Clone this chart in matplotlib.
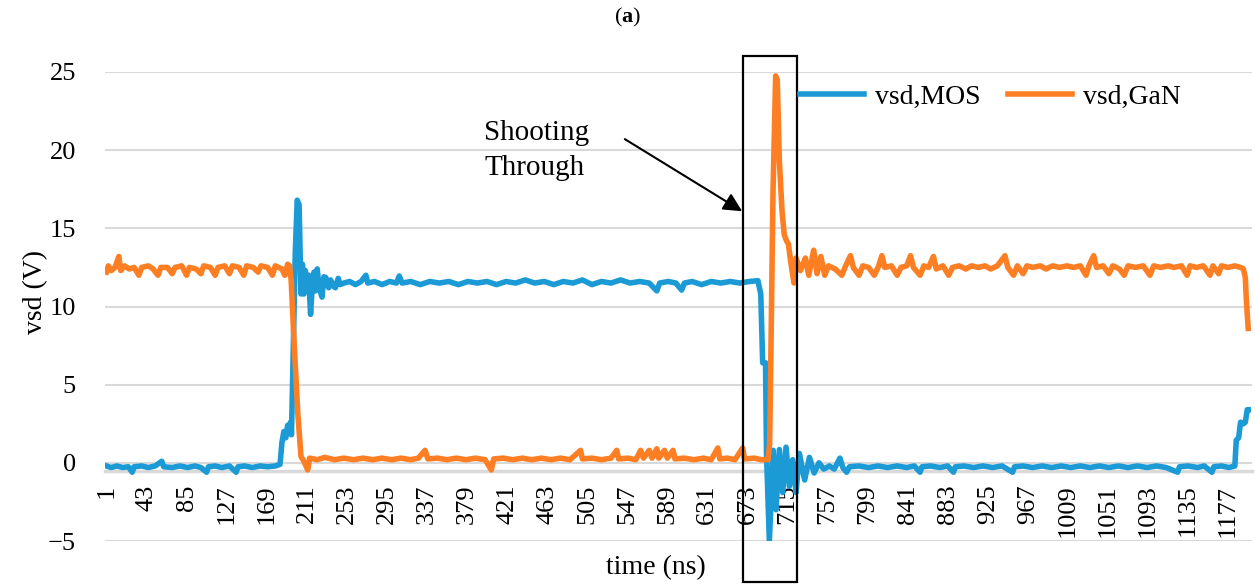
import matplotlib
matplotlib.use("Agg")
import matplotlib.pyplot as plt
from matplotlib.patches import Rectangle

plt.rcParams['font.family'] = ['Liberation Serif', 'DejaVu Serif']
plt.rcParams['mathtext.fontset'] = 'custom'
plt.rcParams['mathtext.rm'] = 'Liberation Serif'
plt.rcParams['mathtext.bf'] = 'Liberation Serif:bold'

# vsd,MOS  (time in ns, voltage in V)
mos_t = [1, 6, 12, 18, 24, 28, 30, 38, 45, 52, 59, 61, 70, 78, 86, 94, 100, 106, 108, 115,
         122, 130, 137, 139, 146, 154, 162, 170, 178, 183,
         185, 187, 189, 191, 193, 194, 195, 197, 199, 201, 203, 205, 206.5, 208, 209.5, 211.5,
         213, 215, 217, 218.6, 220, 222, 224, 227, 229, 231, 234, 236, 239, 241, 244, 246, 250,
         256, 262, 268, 273, 275, 282, 290, 298, 305, 308, 311, 320, 330, 340, 350, 360, 370,
         380, 390, 400, 410, 420, 430, 440, 450, 460, 470, 480, 490, 500, 510, 520, 530, 540,
         550, 560, 570, 578, 581, 590, 598, 604, 607, 615, 625, 635, 645, 655, 665, 675, 684,
         687, 689, 692, 693, 696, 700, 703, 706.5, 710, 713.5, 717, 720.5, 724, 727.5, 733,
         738, 743, 748, 753, 759, 764, 770, 773, 777, 780, 790, 800, 810, 820, 830, 840, 848,
         854, 856, 865, 875, 883, 889, 891, 900, 910, 920, 930, 940, 951, 953, 962, 972, 982,
         992, 1002, 1012, 1022, 1032, 1042, 1052, 1062, 1072, 1082, 1092, 1102, 1112, 1124,
         1126, 1135, 1145, 1152, 1160, 1162, 1170, 1178, 1184, 1185.5, 1188, 1190, 1193, 1195,
         1197, 1198]
mos_v = [-0.2, -0.3, -0.2, -0.3, -0.25, -0.6, -0.25, -0.2, -0.3, -0.2, 0.1, -0.25, -0.3, -0.2,
         -0.3, -0.2, -0.3, -0.6, -0.25, -0.2, -0.3, -0.2, -0.6, -0.25, -0.2, -0.3, -0.2, -0.25,
         -0.2, -0.1,
         1.3, 2.0, 1.6, 2.4, 1.9, 2.6, 1.8, 7.5, 13.5, 16.8, 16.5, 10.8, 12.7, 10.8, 12.3, 11.0,
         12.0, 9.5, 11.5, 12.2, 11.0, 12.4, 11.2, 10.6, 11.9, 11.85, 11.2, 11.7, 11.3, 11.2,
         11.8, 11.4, 11.5,
         11.6, 11.4, 11.6, 12.0, 11.5, 11.6, 11.4, 11.6, 11.5, 11.95, 11.5, 11.6, 11.4, 11.6,
         11.5, 11.6, 11.4, 11.6, 11.5, 11.6, 11.4, 11.6, 11.5, 11.7, 11.5, 11.6, 11.4, 11.6,
         11.5, 11.7, 11.4, 11.6, 11.5, 11.7, 11.5, 11.6, 11.5, 11.0, 11.5, 11.6, 11.5, 11.05,
         11.5, 11.6, 11.4, 11.6, 11.5, 11.6, 11.5, 11.6, 11.65,
         10.8, 6.4, 6.4, 0.6, -5.0, 0.8, -3.0, 0.85, -1.9, 1.0, -1.5, 0.2, -1.9, 0.6, -1.1,
         0.35, -0.65, 0.0, -0.4, -0.2, -0.4, 0.3, -0.3, -0.6, -0.25, -0.2, -0.3, -0.2, -0.3,
         -0.2, -0.3, -0.2, -0.6, -0.25, -0.2, -0.3, -0.2, -0.6, -0.25, -0.2, -0.3, -0.2, -0.3,
         -0.2, -0.6, -0.25, -0.2, -0.3, -0.2, -0.3, -0.2, -0.3, -0.2, -0.3, -0.2, -0.3, -0.2,
         -0.3, -0.2, -0.3, -0.2, -0.3, -0.6, -0.25, -0.2, -0.3, -0.2, -0.6, -0.25, -0.2, -0.3,
         -0.2, 1.45, 1.6, 2.6, 2.5, 2.6, 3.4, 3.4]

# vsd,GaN
gan_t = [1, 3, 6, 10, 14, 16, 20, 25, 30, 35, 38, 45, 50, 55, 58, 65, 70, 73, 80, 85, 88, 95,
         100, 103, 110, 115, 118, 125, 130, 133, 140, 145, 148, 155, 160, 163, 170, 175, 178,
         185, 188, 191, 193, 194.7, 198, 201.6, 205, 208, 212, 214, 222, 230, 240, 250, 260,
         270, 280, 290, 300, 310, 320, 328, 335, 338, 348, 358, 368, 378, 388, 398, 404.5, 407,
         417, 427, 437, 447, 457, 467, 477, 487, 498, 500, 510, 520, 530, 536, 538, 548, 556,
         561, 564, 570, 573, 578, 580, 586, 589, 595, 597, 607, 617, 627, 635, 642, 644, 652,
         660, 668, 670, 680, 688, 694.6, 696.3, 698, 699.8, 702.6, 704.3, 706.5, 709.3, 711.6,
         714, 716, 718.3, 721.8, 724, 728.6, 733.8, 737.3, 742.5, 746, 750, 754, 758, 765, 772,
         776, 781, 784, 790, 794, 800, 806, 810, 814, 817, 824, 830, 834, 840, 844, 847, 854,
         858, 863, 868, 871, 878, 884, 888, 895, 902, 908, 915, 922, 928, 935, 943, 946, 952,
         956, 962, 966, 972, 980, 986, 993, 1000, 1008, 1015, 1022, 1028, 1031, 1036, 1039,
         1046, 1052, 1056, 1063, 1068, 1072, 1080, 1088, 1095, 1099, 1106, 1114, 1120, 1128,
         1134, 1137, 1144, 1151, 1158, 1161, 1167, 1170, 1177, 1184, 1190, 1193, 1195, 1196,
         1198]
gan_v = [12.2, 12.6, 12.3, 12.5, 13.2, 12.3, 12.6, 12.4, 12.5, 12.0, 12.5, 12.6, 12.4, 12.0,
         12.5, 12.5, 12.1, 12.5, 12.6, 12.0, 12.5, 12.4, 12.1, 12.6, 12.5, 12.0, 12.5, 12.6,
         12.1, 12.6, 12.5, 12.0, 12.6, 12.5, 12.2, 12.6, 12.5, 12.0, 12.6, 12.4, 12.0, 12.7,
         12.6, 11.65, 7.4, 3.2, 0.4, 0.1, -0.45, 0.3, 0.2, 0.35, 0.2, 0.3, 0.2, 0.3, 0.2, 0.3,
         0.2, 0.3, 0.2, 0.3, 0.8, 0.25, 0.3, 0.2, 0.3, 0.2, 0.3, 0.2, -0.45, 0.25, 0.3, 0.2,
         0.3, 0.2, 0.3, 0.2, 0.3, 0.2, 0.8, 0.25, 0.3, 0.2, 0.3, 0.8, 0.25, 0.3, 0.2, 0.8, 0.3,
         0.8, 0.3, 0.9, 0.3, 0.8, 0.3, 0.8, 0.25, 0.3, 0.2, 0.3, 0.2, 0.95, 0.25, 0.3, 0.2,
         0.95, 0.25, 0.3, 0.2, 0.2, 1.2, 8.7, 17.2, 24.75, 24.5, 19.3, 16.1, 14.6, 14.2, 14.0,
         12.9, 11.5, 13.1, 12.3, 13.1, 12.0, 13.6, 12.1, 13.2, 12.0, 12.6, 12.4, 12.0, 12.6,
         13.25, 12.5, 12.0, 12.6, 12.5, 12.0, 12.5, 13.25, 12.5, 12.6, 12.0, 12.5, 12.6, 13.25,
         12.5, 12.0, 12.6, 12.5, 13.2, 12.4, 12.6, 12.0, 12.5, 12.6, 12.4, 12.6, 12.5, 12.6,
         12.4, 12.6, 13.25, 12.5, 12.0, 12.6, 12.1, 12.6, 12.5, 12.6, 12.4, 12.6, 12.5, 12.6,
         12.5, 12.6, 12.0, 12.6, 13.25, 12.5, 12.6, 12.1, 12.6, 12.4, 12.0, 12.6, 12.5, 12.6,
         12.0, 12.6, 12.5, 12.6, 12.5, 12.6, 12.0, 12.6, 12.5, 12.6, 12.0, 12.6, 12.1, 12.6,
         12.5, 12.6, 12.5, 12.4, 11.85, 10.5, 8.6]

x_ticks = list(range(1, 1178, 42))
y_ticks = [-5, 0, 5, 10, 15, 20, 25]

blue = '#1B9AD6'
orange = '#FD7E23'

fig = plt.figure(figsize=(12.55, 5.87), dpi=100)
ax = fig.add_axes([105/1255, 1-541/587, 1147/1255, 469/587])

ax.plot(mos_t, mos_v, color=blue, lw=4, label='vsd,MOS', zorder=3)
ax.plot(gan_t, gan_v, color=orange, lw=4, label='vsd,GaN', zorder=4)

ax.set_xlim(-0.5, 1202)
ax.set_ylim(-5, 25)
ax.set_yticks(y_ticks)
ax.set_xticks(x_ticks)
ax.set_xticklabels([str(t) for t in x_ticks])
ax.tick_params(axis='both', length=0, labelsize=19)
ax.tick_params(axis='y', pad=21)
ax.tick_params(axis='x', pad=10, labelrotation=90)
ax.grid(axis='y', color='#D9D9D9', lw=1.5)
ax.set_axisbelow(True)
for s in ['top', 'right', 'left']:
    ax.spines[s].set_visible(False)
ax.spines['bottom'].set_position(('data', -0.5))
ax.spines['bottom'].set_color('#D9D9D9')
ax.spines['bottom'].set_linewidth(2.5)

ax.set_ylabel('vsd (V)', fontsize=20)
ax.yaxis.set_label_coords(-0.05, 0.53)
ax.set_xlabel('time (ns)', fontsize=20)
ax.xaxis.set_label_coords(0.48, -0.03)

# shooting-through window
ax.add_patch(Rectangle((668, -7.6), 56.6, 33.6, fill=False, ec='black', lw=1.6,
                       clip_on=False, zorder=6))
ax.text(397, 20.0, 'Shooting\nThrough', fontsize=21, ha='left', va='center',
        linespacing=1.45)
ax.annotate('', xy=(670, 16.0), xytext=(542, 20.8),
            arrowprops=dict(arrowstyle='-|>', color='black', lw=1.5, mutation_scale=28))

fig.legend(loc='center left', bbox_to_anchor=(800/1255, 1-97/587), ncol=2, frameon=False,
           fontsize=20, handlelength=2.3, handletextpad=0.4, columnspacing=1.0,
           borderaxespad=0, borderpad=0)

fig.text(0.5, 1-17/587, r'$(\mathbf{a})$', ha='center', va='center', fontsize=16)

fig.savefig('out.png', dpi=100, facecolor='w')
